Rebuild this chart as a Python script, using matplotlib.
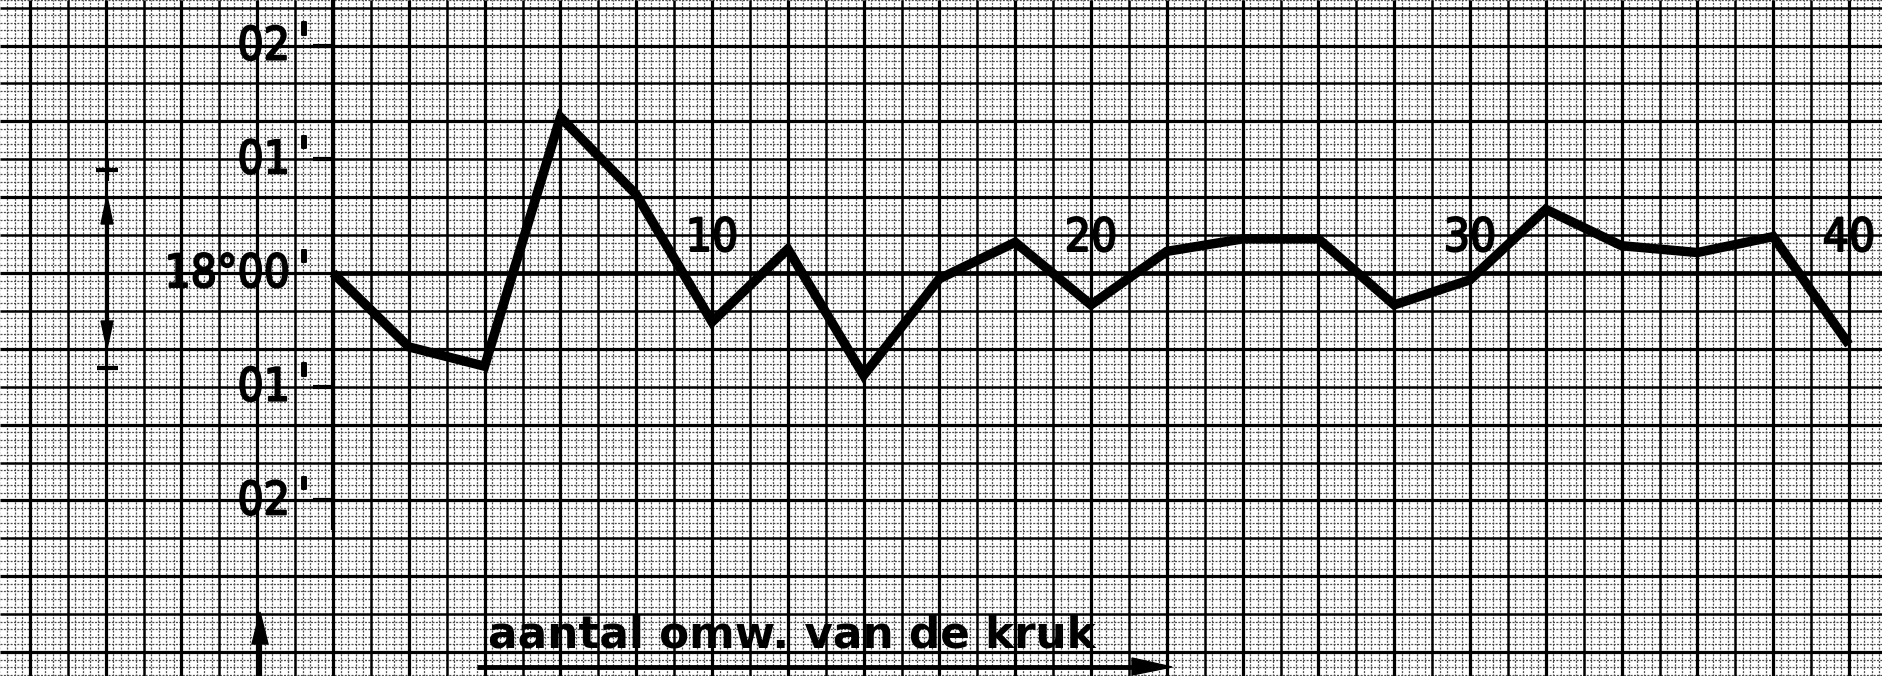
import numpy as np
import matplotlib
matplotlib.use("Agg")
import matplotlib.pyplot as plt
import matplotlib.patheffects as pe
from matplotlib.collections import LineCollection
from matplotlib.patches import Polygon

# ---------------- data ----------------
turns = [0, 2, 4, 6, 8, 10, 12, 14, 16, 18, 20, 22, 24, 26, 28, 30, 32, 34, 36, 38, 40]
deviation_min = [0.00, -0.65, -0.82, 1.37, 0.69, -0.43, 0.21, -0.90, -0.05, 0.27,
                 -0.28, 0.19, 0.30, 0.30, -0.28, -0.06, 0.56, 0.24, 0.18, 0.32, -0.63]
x_tick_values = [10, 20, 30, 40]
x_tick_labels = ["10", "20", "30", "40"]
y_tick_values = [2, 1, 0, -1, -2]
y_tick_labels = ["02", "01", "18°00", "01", "02"]
x_title = "aantal omw. van de kruk"

# ---------------- layout (pixels) ----------------
W, H = 1883, 676
PX_X0, PX_PER_UNIT = 333, 37.9
PX_Y0, PX_PER_MIN = 273, 113.7

fig = plt.figure(figsize=(W / 100, H / 100), dpi=100)
fig.patch.set_facecolor("white")
ax = fig.add_axes([0, 0, 1, 1])
xmin, xmax = -PX_X0 / PX_PER_UNIT, (W - PX_X0) / PX_PER_UNIT
ymin, ymax = -(H - PX_Y0) / PX_PER_MIN, PX_Y0 / PX_PER_MIN
ax.set_xlim(xmin, xmax)
ax.set_ylim(ymin, ymax)
ax.axis("off")

# ---------------- graph paper (mm grid) ----------------
mm_x = 0.2          # data units per mm horizontally
mm_y = 1.0 / 15.0   # minutes per mm vertically
fine, med, heavy = [], [], []
for k in range(int(np.floor(xmin / mm_x)) - 1, int(np.ceil(xmax / mm_x)) + 2):
    seg = [(k * mm_x, ymin), (k * mm_x, ymax)]
    (heavy if k % 10 == 0 else med if k % 5 == 0 else fine).append(seg)
for k in range(int(np.floor(ymin / mm_y)) - 1, int(np.ceil(ymax / mm_y)) + 2):
    seg = [(xmin, k * mm_y), (xmax, k * mm_y)]
    (heavy if k % 10 == 0 else med if k % 5 == 0 else fine).append(seg)
ax.add_collection(LineCollection(fine, colors="0.3", linewidths=0.9,
                                 linestyles=[(0, (1.6, 1.1))], zorder=1))
ax.add_collection(LineCollection(med, colors="black", linewidths=1.8, zorder=2))
ax.add_collection(LineCollection(heavy, colors="black", linewidths=2.3, zorder=2))

# ---------------- axes lines ----------------
ax.plot([0, xmax], [0, 0], color="black", lw=3.4, zorder=4, solid_capstyle="butt")
ax.plot([0, 0], [ymax, -(530 - PX_Y0) / PX_PER_MIN], color="black", lw=3.0,
        zorder=4, solid_capstyle="butt")
tick_len = 20 / PX_PER_UNIT
for v in y_tick_values:
    if v != 0:
        ax.plot([-tick_len, 0], [v, v], color="black", lw=3.0, zorder=4,
                solid_capstyle="butt")

# ---------------- data line ----------------
ax.plot(turns, deviation_min, color="black", lw=6.8, solid_joinstyle="miter",
        solid_capstyle="butt", zorder=6)

# ---------------- tick labels ----------------
heavier = [pe.withStroke(linewidth=1.4, foreground="black")]
font = dict(family="DejaVu Sans", fontstretch="condensed", fontweight="normal",
            fontsize=33, color="black", zorder=7, path_effects=heavier)
lab_right = (290 - PX_X0) / PX_PER_UNIT
prime_x = (304 - PX_X0) / PX_PER_UNIT
base_off = 14 / PX_PER_MIN
for v, lab in zip(y_tick_values, y_tick_labels):
    ax.text(lab_right, v - base_off, lab, ha="right", va="baseline", **font)
    ax.text(prime_x, v - base_off + 4 / PX_PER_MIN, "'", ha="center",
            va="baseline", **font)
for v, lab in zip(x_tick_values, x_tick_labels):
    ax.text(v, (PX_Y0 - 251) / PX_PER_MIN, lab, ha="center", va="baseline", **font)

# ---------------- decorations (pixel space) ----------------
deco = fig.add_axes([0, 0, 1, 1], zorder=10)
deco.set_xlim(0, W)
deco.set_ylim(H, 0)
deco.axis("off")
deco.patch.set_alpha(0)
k = dict(color="black", lw=3.0, solid_capstyle="butt")
# + / - sign with double arrow
deco.plot([96, 118], [170, 170], **k)
deco.plot([107, 107], [160, 181], **k)
deco.plot([97, 118], [368, 368], **k)
deco.plot([107, 107], [215, 330], **k)
deco.add_patch(Polygon([(107, 196), (101, 224), (113, 224)], closed=True, color="black"))
deco.add_patch(Polygon([(107, 349), (101, 321), (113, 321)], closed=True, color="black"))
# upward arrow bottom-left
deco.plot([260, 260], [636, 676], **k)
deco.add_patch(Polygon([(260, 612), (252, 644), (268, 644)], closed=True, color="black"))
# x title and arrow
deco.text(488, 647, x_title, ha="left", va="baseline", fontsize=31.5,
          fontweight="bold", family="DejaVu Sans", color="black")
deco.plot([477, 1140], [667, 667], color="black", lw=3.5, solid_capstyle="butt")
deco.add_patch(Polygon([(1172, 667), (1132, 658), (1132, 675)], closed=True, color="black"))

fig.savefig("out.png", dpi=100)
